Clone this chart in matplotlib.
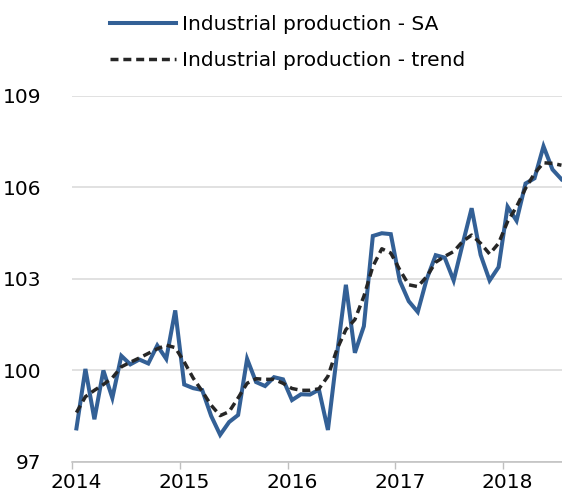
import matplotlib
matplotlib.use("Agg")
import matplotlib.pyplot as plt

# Monthly data, Jan 2014 - Jul 2018 (index 0 = Jan 2014)
ip_sa = [98.1, 100.05, 98.4, 100.0, 99.1, 100.48, 100.2, 100.36, 100.23, 100.82, 100.38, 101.97,
         99.54, 99.42, 99.36, 98.51, 97.89, 98.31, 98.54, 100.38, 99.62, 99.49, 99.78, 99.71,
         99.03, 99.22, 99.21, 99.37, 98.05, 100.5, 102.81, 100.58, 101.45, 104.41, 104.5, 104.47,
         102.94, 102.27, 101.92, 103.0, 103.78, 103.7, 102.95, 104.15, 105.32, 103.79, 102.95, 103.39,
         105.37, 104.91, 106.13, 106.3, 107.35, 106.59, 106.27]
ip_trend = [98.62, 99.14, 99.35, 99.54, 99.76, 100.12, 100.27, 100.41, 100.56, 100.71, 100.83, 100.75,
            100.28, 99.75, 99.32, 98.86, 98.52, 98.65, 99.1, 99.58, 99.73, 99.71, 99.71, 99.58,
            99.41, 99.35, 99.35, 99.4, 99.81, 100.69, 101.34, 101.67, 102.43, 103.41, 103.99, 103.85,
            103.3, 102.81, 102.75, 103.08, 103.55, 103.74, 103.9, 104.23, 104.44, 104.17, 103.82, 104.17,
            104.88, 105.37, 105.97, 106.46, 106.81, 106.79, 106.73]
years = ['2014', '2015', '2016', '2017', '2018']
y_ticks = [97, 100, 103, 106, 109]

plt.rcParams['font.family'] = ['DejaVu Sans']

fig = plt.figure(figsize=(5.62, 4.95), dpi=100)
ax = fig.add_axes([0.128, 0.0667, 0.872, 0.7394])

months = list(range(len(ip_sa)))
ax.plot(months, ip_sa, color='#336096', linewidth=2.9, label='Industrial production - SA',
        solid_joinstyle='miter', zorder=3)
ax.plot(months, ip_trend, color='#262626', linewidth=2.5, dashes=(2.3, 1.4),
        label='Industrial production - trend', zorder=4)

ax.set_xlim(-0.5, 54.06)
ax.set_ylim(97, 109)
ax.set_yticks(y_ticks)
ax.set_yticklabels([str(v) for v in y_ticks])
ax.grid(axis='y', color='#D9D9D9', linewidth=1.1)
ax.set_axisbelow(True)

# ticks between years, labels on January
ax.set_xticks([12 * i - 0.5 for i in range(len(years))])
ax.set_xticklabels([])
ax.set_xticks([12 * i for i in range(len(years))], minor=True)
ax.set_xticklabels(years, minor=True)
ax.tick_params(axis='x', which='major', length=5, width=1, color='#BFBFBF', direction='out')
ax.tick_params(axis='x', which='minor', length=0, pad=8, labelsize=14.5)
ax.tick_params(axis='y', length=0, pad=22, labelsize=14.5)

for s in ['top', 'right', 'left']:
    ax.spines[s].set_visible(False)
ax.spines['bottom'].set_color('#BFBFBF')
ax.spines['bottom'].set_linewidth(1.1)

fig.legend(loc='upper left', bbox_to_anchor=(110 / 562, 1 - 15 / 495), frameon=False,
           fontsize=14.5, handlelength=3.3, handletextpad=0.3, labelspacing=0.85,
           borderpad=0, borderaxespad=0)

fig.savefig('out.png', dpi=100)
